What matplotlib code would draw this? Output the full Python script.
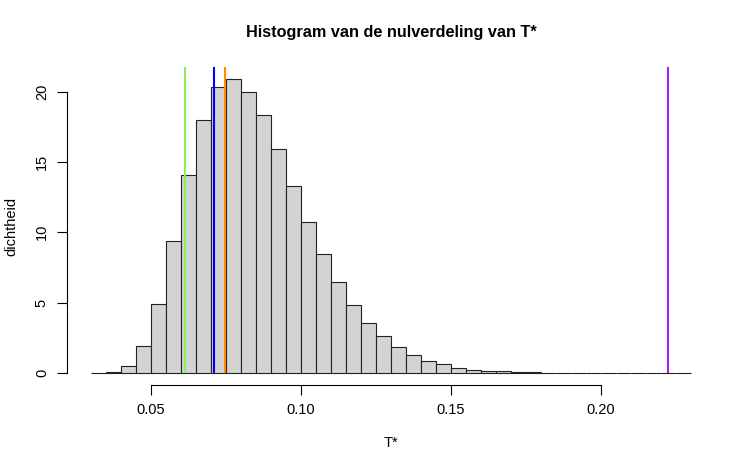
import matplotlib
matplotlib.use("Agg")
import matplotlib.pyplot as plt
import numpy as np

plt.rcParams['font.family'] = ['Liberation Sans', 'DejaVu Sans']

# histogram of the null distribution (density per bin of width 0.005)
bin_start = 0.03
bin_width = 0.005
density = [0.0, 0.1, 0.47, 1.94, 4.92, 9.39, 14.07, 17.97, 20.35, 20.88,
           19.96, 18.3, 15.91, 13.31, 10.76, 8.47, 6.48, 4.85, 3.57, 2.62,
           1.87, 1.28, 0.87, 0.61, 0.38, 0.24, 0.17, 0.11, 0.07, 0.04,
           0.02, 0.01, 0.01, 0.0, 0.0, 0.0, 0.0, 0.0, 0.0, 0.0]

# reference lines
vline_x = [0.0614, 0.0710, 0.0746, 0.2224]
vline_colors = ['#8CEE5C', '#0000FF', '#FF8C00', '#A020F0']

xticks = [0.05, 0.10, 0.15, 0.20]
yticks = [0, 5, 10, 15, 20]

edges = bin_start + bin_width * np.arange(len(density))
xmin, xmax = bin_start, bin_start + bin_width * len(density)
ymax = max(density)

fig = plt.figure(figsize=(7.5, 4.68), dpi=100)
ax = fig.add_axes([67 / 750, 1 - 384.8 / 468, (715 - 67) / 750, (384.8 - 67.4) / 468])

ax.bar(edges, density, width=bin_width, align='edge', color='#D3D3D3',
       edgecolor='#222222', linewidth=0.8)

pad_x = 0.04 * (xmax - xmin)
pad_y = 0.04 * ymax
ax.set_xlim(xmin - pad_x, xmax + pad_x)
ax.set_ylim(-pad_y, ymax + pad_y)

for x, c in zip(vline_x, vline_colors):
    ax.vlines(x, 0, ymax + pad_y, color=c, linewidth=1.5)

for s in ['top', 'right']:
    ax.spines[s].set_visible(False)
ax.spines['left'].set_bounds(yticks[0], yticks[-1])
ax.spines['bottom'].set_bounds(xticks[0], xticks[-1])
ax.spines['left'].set_linewidth(0.8)
ax.spines['bottom'].set_linewidth(0.8)

ax.set_xticks(xticks)
ax.set_xticklabels(['%.2f' % t for t in xticks])
ax.set_yticks(yticks)
ax.set_yticklabels([str(t) for t in yticks], rotation=90, va='center')
ax.tick_params(direction='out', length=7, width=0.8, labelsize=10.5, pad=6)

ax.set_xlabel('T*', fontsize=10.5, labelpad=14)
ax.set_ylabel('dichtheid', fontsize=10.5, labelpad=12)
fig.text(0.5 * (67 + 715) / 750, 1 - 33 / 468, 'Histogram van de nulverdeling van T*',
         ha='center', va='center', fontsize=11.7, fontweight='bold')

fig.savefig('out.png', dpi=100)
